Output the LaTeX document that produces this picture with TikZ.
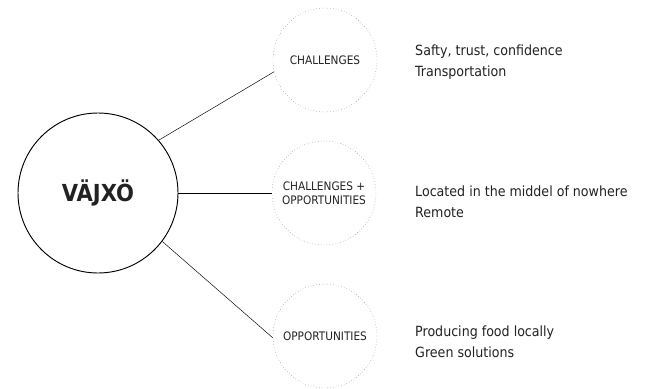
\documentclass[tikz,border=0pt]{standalone}
\usepackage{fontspec}
\setmainfont{DejaVu Sans Condensed}
\usepackage{tikz}
\usepackage{xcolor}
\definecolor{txt}{HTML}{222222}
\definecolor{dots}{HTML}{777777}
\tikzset{place/.style={draw=black,thick,circle,minimum size=160*0.03cm,inner sep=0pt,text=txt,font=\bfseries\fontsize{20}{22}\selectfont}}
\tikzset{theme/.style={draw=dots,dotted,circle,minimum size=104*0.03cm,inner sep=0pt,align=center,text=txt,font=\fontsize{10}{12}\selectfont}}
\tikzset{notes/.style={anchor=west,inner sep=0pt,align=left,text=txt,font=\fontsize{12}{18}\selectfont}}

\begin{document}
\begin{tikzpicture}[x=0.03cm,y=-0.03cm]
    \useasboundingbox (0,0) rectangle (645,388);

    \node[place] (vaxjo) at (98, 193) {VÄJXÖ};

    \node[theme] (chal) at (325, 60) {CHALLENGES};
    \node[theme] (both) at (324, 193) {CHALLENGES +\\OPPORTUNITIES};
    \node[theme] (opp) at (325, 336) {OPPORTUNITIES};

    \node[notes] (chalnotes) at (415, 62.5) {Safty, trust, confidence\\Transportation};
    \node[notes] (bothnotes) at (415, 202) {Located in the middel of nowhere\\Remote};
    \node[notes] (oppnotes) at (415, 342) {Producing food locally\\Green solutions};

    \draw (vaxjo.41) to (chal.193);
    \draw (vaxjo.east) to (both.west);
    \draw (vaxjo.-37) to (opp.182);
\end{tikzpicture}
\end{document}
